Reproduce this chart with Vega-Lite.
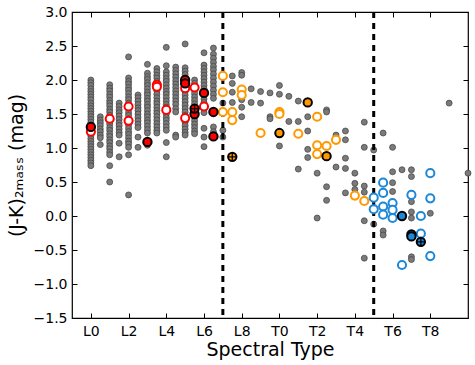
{
"$schema": "https://vega.github.io/schema/vega-lite/v6.json",
"width": 396, "height": 306,
"autosize": {"type": "none"},
"padding": {"left": 72, "top": 12, "right": 7, "bottom": 47},
"config": {"view": {"stroke": "black", "strokeWidth": 1.2}, "font": "DejaVu Sans",
 "axis": {"labelFont": "DejaVu Sans", "labelFontSize": 14, "labelColor": "black", "titleFont": "DejaVu Sans", "titleFontSize": 19, "titleFontWeight": "normal", "titleColor": "black", "domain": false, "grid": false, "tickColor": "black", "tickSize": -5, "tickWidth": 1}},
"datasets": {
"field": [
{"sp":0,"jk":2.00},{"sp":0,"jk":1.96},{"sp":0,"jk":1.92},{"sp":0,"jk":1.87},{"sp":0,"jk":1.83},{"sp":0,"jk":1.79},{"sp":0,"jk":1.75},{"sp":0,"jk":1.71},{"sp":0,"jk":1.66},{"sp":0,"jk":1.62},{"sp":0,"jk":1.58},{"sp":0,"jk":1.54},{"sp":0,"jk":1.50},{"sp":0,"jk":1.46},{"sp":0,"jk":1.42},{"sp":0,"jk":1.38},{"sp":0,"jk":1.34},{"sp":0,"jk":1.30},{"sp":0,"jk":1.26},{"sp":0,"jk":1.22},{"sp":0,"jk":1.18},{"sp":0,"jk":1.14},{"sp":0,"jk":1.10},{"sp":0,"jk":1.06},{"sp":0,"jk":1.02},{"sp":0,"jk":0.98},{"sp":0,"jk":0.94},{"sp":0,"jk":0.90},{"sp":0,"jk":0.86},{"sp":0,"jk":0.82},{"sp":0,"jk":0.78},{"sp":0,"jk":0.74},
{"sp":0.5,"jk":1.46},{"sp":0.5,"jk":1.41},{"sp":0.5,"jk":1.37},{"sp":0.5,"jk":1.33},{"sp":0.5,"jk":1.28},{"sp":0.5,"jk":1.24},{"sp":0.5,"jk":1.19},{"sp":0.5,"jk":1.15},{"sp":0.5,"jk":1.05},
{"sp":1,"jk":1.93},{"sp":1,"jk":1.88},{"sp":1,"jk":1.84},{"sp":1,"jk":1.79},{"sp":1,"jk":1.75},{"sp":1,"jk":1.70},{"sp":1,"jk":1.66},{"sp":1,"jk":1.62},{"sp":1,"jk":1.57},{"sp":1,"jk":1.53},{"sp":1,"jk":1.48},{"sp":1,"jk":1.44},{"sp":1,"jk":1.39},{"sp":1,"jk":1.35},{"sp":1,"jk":1.30},{"sp":1,"jk":1.26},{"sp":1,"jk":1.21},{"sp":1,"jk":1.17},{"sp":1,"jk":1.12},{"sp":1,"jk":1.08},{"sp":1,"jk":1.03},{"sp":1,"jk":0.99},{"sp":1,"jk":0.94},{"sp":1,"jk":0.90},{"sp":1,"jk":0.74},{"sp":1,"jk":0.50},
{"sp":1.5,"jk":1.66},{"sp":1.5,"jk":1.61},{"sp":1.5,"jk":1.56},{"sp":1.5,"jk":1.52},{"sp":1.5,"jk":1.47},{"sp":1.5,"jk":1.42},{"sp":1.5,"jk":1.37},{"sp":1.5,"jk":1.33},{"sp":1.5,"jk":1.28},{"sp":1.5,"jk":1.23},{"sp":1.5,"jk":1.19},{"sp":1.5,"jk":1.07},{"sp":1.5,"jk":0.87},
{"sp":2,"jk":2.34},{"sp":2,"jk":2.03},{"sp":2,"jk":1.98},{"sp":2,"jk":1.94},{"sp":2,"jk":1.89},{"sp":2,"jk":1.85},{"sp":2,"jk":1.80},{"sp":2,"jk":1.75},{"sp":2,"jk":1.71},{"sp":2,"jk":1.66},{"sp":2,"jk":1.62},{"sp":2,"jk":1.57},{"sp":2,"jk":1.52},{"sp":2,"jk":1.48},{"sp":2,"jk":1.43},{"sp":2,"jk":1.38},{"sp":2,"jk":1.34},{"sp":2,"jk":1.29},{"sp":2,"jk":1.24},{"sp":2,"jk":1.20},{"sp":2,"jk":1.15},{"sp":2,"jk":1.10},{"sp":2,"jk":1.06},{"sp":2,"jk":1.01},{"sp":2,"jk":0.90},{"sp":2,"jk":0.31},
{"sp":2.5,"jk":1.78},{"sp":2.5,"jk":1.74},{"sp":2.5,"jk":1.69},{"sp":2.5,"jk":1.64},{"sp":2.5,"jk":1.59},{"sp":2.5,"jk":1.55},{"sp":2.5,"jk":1.50},{"sp":2.5,"jk":1.45},{"sp":2.5,"jk":1.40},{"sp":2.5,"jk":1.35},{"sp":2.5,"jk":1.30},{"sp":2.5,"jk":1.16},{"sp":2.5,"jk":1.01},
{"sp":3,"jk":2.23},{"sp":3,"jk":2.10},{"sp":3,"jk":2.05},{"sp":3,"jk":2.01},{"sp":3,"jk":1.96},{"sp":3,"jk":1.92},{"sp":3,"jk":1.87},{"sp":3,"jk":1.82},{"sp":3,"jk":1.78},{"sp":3,"jk":1.73},{"sp":3,"jk":1.69},{"sp":3,"jk":1.64},{"sp":3,"jk":1.60},{"sp":3,"jk":1.55},{"sp":3,"jk":1.50},{"sp":3,"jk":1.46},{"sp":3,"jk":1.41},{"sp":3,"jk":1.37},{"sp":3,"jk":1.32},{"sp":3,"jk":1.27},{"sp":3,"jk":1.22},{"sp":3,"jk":1.04},
{"sp":3.5,"jk":2.17},{"sp":3.5,"jk":2.12},{"sp":3.5,"jk":2.07},{"sp":3.5,"jk":2.03},{"sp":3.5,"jk":1.98},{"sp":3.5,"jk":1.93},{"sp":3.5,"jk":1.88},{"sp":3.5,"jk":1.84},{"sp":3.5,"jk":1.79},{"sp":3.5,"jk":1.74},{"sp":3.5,"jk":1.69},{"sp":3.5,"jk":1.65},{"sp":3.5,"jk":1.60},{"sp":3.5,"jk":1.55},{"sp":3.5,"jk":1.51},{"sp":3.5,"jk":1.46},{"sp":3.5,"jk":1.41},{"sp":3.5,"jk":1.36},{"sp":3.5,"jk":1.31},{"sp":3.5,"jk":1.26},{"sp":3.5,"jk":1.22},
{"sp":4,"jk":2.48},{"sp":4,"jk":2.21},{"sp":4,"jk":2.12},{"sp":4,"jk":2.07},{"sp":4,"jk":2.02},{"sp":4,"jk":1.98},{"sp":4,"jk":1.93},{"sp":4,"jk":1.88},{"sp":4,"jk":1.83},{"sp":4,"jk":1.79},{"sp":4,"jk":1.74},{"sp":4,"jk":1.69},{"sp":4,"jk":1.64},{"sp":4,"jk":1.60},{"sp":4,"jk":1.55},{"sp":4,"jk":1.50},{"sp":4,"jk":1.45},{"sp":4,"jk":1.41},{"sp":4,"jk":1.36},{"sp":4,"jk":1.31},{"sp":4,"jk":1.26},{"sp":4,"jk":1.08},{"sp":4,"jk":0.87},
{"sp":4.5,"jk":2.19},{"sp":4.5,"jk":2.14},{"sp":4.5,"jk":2.09},{"sp":4.5,"jk":2.04},{"sp":4.5,"jk":1.99},{"sp":4.5,"jk":1.94},{"sp":4.5,"jk":1.89},{"sp":4.5,"jk":1.84},{"sp":4.5,"jk":1.79},{"sp":4.5,"jk":1.74},{"sp":4.5,"jk":1.69},{"sp":4.5,"jk":1.64},{"sp":4.5,"jk":1.58},{"sp":4.5,"jk":1.53},{"sp":4.5,"jk":1.19},{"sp":4.5,"jk":1.16},
{"sp":5,"jk":2.53},{"sp":5,"jk":2.18},{"sp":5,"jk":2.13},{"sp":5,"jk":2.08},{"sp":5,"jk":2.03},{"sp":5,"jk":1.98},{"sp":5,"jk":1.93},{"sp":5,"jk":1.88},{"sp":5,"jk":1.83},{"sp":5,"jk":1.78},{"sp":5,"jk":1.73},{"sp":5,"jk":1.68},{"sp":5,"jk":1.63},{"sp":5,"jk":1.58},{"sp":5,"jk":1.53},{"sp":5,"jk":1.48},{"sp":5,"jk":1.43},{"sp":5,"jk":1.38},{"sp":5,"jk":1.33},{"sp":5,"jk":1.28},{"sp":5,"jk":1.23},{"sp":5,"jk":1.19},
{"sp":5.5,"jk":2.00},{"sp":5.5,"jk":1.95},{"sp":5.5,"jk":1.90},{"sp":5.5,"jk":1.85},{"sp":5.5,"jk":1.80},{"sp":5.5,"jk":1.75},{"sp":5.5,"jk":1.70},{"sp":5.5,"jk":1.65},{"sp":5.5,"jk":1.60},{"sp":5.5,"jk":1.55},{"sp":5.5,"jk":1.50},{"sp":5.5,"jk":1.45},{"sp":5.5,"jk":1.40},{"sp":5.5,"jk":1.35},{"sp":5.5,"jk":1.30},{"sp":5.5,"jk":1.25},{"sp":5.5,"jk":1.21},
{"sp":6,"jk":2.40},{"sp":6,"jk":2.22},{"sp":6,"jk":2.17},{"sp":6,"jk":2.12},{"sp":6,"jk":2.07},{"sp":6,"jk":2.02},{"sp":6,"jk":1.97},{"sp":6,"jk":1.92},{"sp":6,"jk":1.87},{"sp":6,"jk":1.82},{"sp":6,"jk":1.77},{"sp":6,"jk":1.72},{"sp":6,"jk":1.67},{"sp":6,"jk":1.62},{"sp":6,"jk":1.57},{"sp":6,"jk":1.52},{"sp":6,"jk":1.29},{"sp":6,"jk":1.16},{"sp":6,"jk":1.02},
{"sp":6.5,"jk":2.47},{"sp":6.5,"jk":2.38},{"sp":6.5,"jk":2.32},{"sp":6.5,"jk":2.26},{"sp":6.5,"jk":2.20},{"sp":6.5,"jk":2.15},{"sp":6.5,"jk":2.09},{"sp":6.5,"jk":2.03},{"sp":6.5,"jk":1.97},{"sp":6.5,"jk":1.91},{"sp":6.5,"jk":1.85},{"sp":6.5,"jk":1.79},{"sp":6.5,"jk":1.73},{"sp":6.5,"jk":1.31},{"sp":6.5,"jk":1.24},
{"sp":7,"jk":1.66},{"sp":7,"jk":1.26},{"sp":7,"jk":1.16},
{"sp":7.5,"jk":2.06},{"sp":7.5,"jk":1.95},{"sp":7.5,"jk":1.82},{"sp":7.5,"jk":1.67},
{"sp":8,"jk":2.11},{"sp":8,"jk":2.07},{"sp":8,"jk":1.71},{"sp":8,"jk":1.60},{"sp":8,"jk":1.46},
{"sp":8.5,"jk":1.87},{"sp":8.5,"jk":1.67},
{"sp":9,"jk":1.83},{"sp":9,"jk":1.66},
{"sp":9.5,"jk":1.81},{"sp":9.5,"jk":1.46},{"sp":9.5,"jk":1.43},
{"sp":10,"jk":1.92},{"sp":10,"jk":1.79},{"sp":10,"jk":1.03},
{"sp":10.5,"jk":1.76},{"sp":10.5,"jk":1.39},
{"sp":11,"jk":1.69},{"sp":11,"jk":1.39},{"sp":11,"jk":0.69},
{"sp":11.5,"jk":1.46},{"sp":11.5,"jk":1.25},{"sp":11.5,"jk":0.98},{"sp":11.5,"jk":0.86},
{"sp":12,"jk":0.63},{"sp":12,"jk":-0.03},
{"sp":12.5,"jk":1.56},{"sp":12.5,"jk":1.53},{"sp":12.5,"jk":0.43},{"sp":12.5,"jk":0.23},
{"sp":13,"jk":1.19},{"sp":13,"jk":0.72},
{"sp":13.5,"jk":1.25},{"sp":13.5,"jk":1.12},{"sp":13.5,"jk":0.85},{"sp":13.5,"jk":0.70},{"sp":13.5,"jk":0.34},
{"sp":14,"jk":0.63},{"sp":14,"jk":0.48},{"sp":14,"jk":0.39},
{"sp":14.5,"jk":1.38},{"sp":14.5,"jk":1.01},{"sp":14.5,"jk":0.44},{"sp":14.5,"jk":0.35},{"sp":14.5,"jk":-0.07},{"sp":14.5,"jk":-0.62},
{"sp":15,"jk":0.97},{"sp":15,"jk":-0.12},
{"sp":15.5,"jk":1.22},{"sp":15.5,"jk":-0.22},{"sp":15.5,"jk":-0.28},
{"sp":16,"jk":1.01},{"sp":16,"jk":0.65},{"sp":16,"jk":0.49},{"sp":16,"jk":0.36},
{"sp":16.5,"jk":0.68},
{"sp":17,"jk":0.68},{"sp":17,"jk":0.58},{"sp":17,"jk":0.21},{"sp":17,"jk":0.06},{"sp":17,"jk":-0.03},{"sp":17,"jk":-0.60},{"sp":17,"jk":-0.64},
{"sp":18,"jk":0.04},
{"sp":19,"jk":1.66},
{"sp":20,"jk":0.63}
],
"targets": [
{"sp":0,"jk":1.24,"grp":"L","kind":"open"},{"sp":1,"jk":1.43,"grp":"L","kind":"open"},{"sp":2,"jk":1.61,"grp":"L","kind":"open"},{"sp":2,"jk":1.40,"grp":"L","kind":"open"},{"sp":3.5,"jk":1.93,"grp":"L","kind":"open"},{"sp":3.5,"jk":1.90,"grp":"L","kind":"open"},{"sp":4,"jk":1.56,"grp":"L","kind":"open"},{"sp":5,"jk":1.88,"grp":"L","kind":"open"},{"sp":5,"jk":1.44,"grp":"L","kind":"open"},{"sp":5.5,"jk":1.89,"grp":"L","kind":"open"},{"sp":6,"jk":1.61,"grp":"L","kind":"open"},
{"sp":0,"jk":1.31,"grp":"L","kind":"filled"},{"sp":3,"jk":1.09,"grp":"L","kind":"filled"},{"sp":5,"jk":2.00,"grp":"L","kind":"filled"},{"sp":5,"jk":1.95,"grp":"L","kind":"filled"},{"sp":5.5,"jk":1.50,"grp":"L","kind":"filled"},{"sp":6,"jk":1.81,"grp":"L","kind":"filled"},{"sp":6.5,"jk":1.53,"grp":"L","kind":"filled"},{"sp":6.5,"jk":1.17,"grp":"L","kind":"filled"},
{"sp":5.5,"jk":1.58,"grp":"L","kind":"cross"},
{"sp":7,"jk":2.06,"grp":"LT","kind":"open"},{"sp":7,"jk":1.82,"grp":"LT","kind":"open"},{"sp":7,"jk":1.53,"grp":"LT","kind":"open"},{"sp":7.5,"jk":1.53,"grp":"LT","kind":"open"},{"sp":7.5,"jk":1.41,"grp":"LT","kind":"open"},{"sp":8,"jk":1.86,"grp":"LT","kind":"open"},{"sp":8,"jk":1.78,"grp":"LT","kind":"open"},{"sp":9,"jk":1.22,"grp":"LT","kind":"open"},{"sp":10,"jk":1.53,"grp":"LT","kind":"open"},{"sp":10,"jk":1.50,"grp":"LT","kind":"open"},{"sp":11,"jk":1.21,"grp":"LT","kind":"open"},{"sp":12,"jk":1.46,"grp":"LT","kind":"open"},{"sp":12,"jk":1.04,"grp":"LT","kind":"open"},{"sp":12,"jk":0.91,"grp":"LT","kind":"open"},{"sp":12.5,"jk":1.03,"grp":"LT","kind":"open"},{"sp":13,"jk":1.12,"grp":"LT","kind":"open"},{"sp":14,"jk":0.30,"grp":"LT","kind":"open"},{"sp":14.5,"jk":0.22,"grp":"LT","kind":"open"},
{"sp":10,"jk":1.22,"grp":"LT","kind":"filled"},{"sp":11.5,"jk":1.67,"grp":"LT","kind":"filled"},{"sp":12.5,"jk":0.88,"grp":"LT","kind":"filled"},
{"sp":7.5,"jk":0.87,"grp":"LT","kind":"cross"},
{"sp":15,"jk":0.27,"grp":"T","kind":"open"},{"sp":15,"jk":0.10,"grp":"T","kind":"open"},{"sp":15.5,"jk":0.49,"grp":"T","kind":"open"},{"sp":15.5,"jk":0.34,"grp":"T","kind":"open"},{"sp":15.5,"jk":0.14,"grp":"T","kind":"open"},{"sp":15.5,"jk":0.02,"grp":"T","kind":"open"},{"sp":16,"jk":0.19,"grp":"T","kind":"open"},{"sp":16,"jk":0.09,"grp":"T","kind":"open"},{"sp":16,"jk":-0.03,"grp":"T","kind":"open"},{"sp":16.5,"jk":-0.72,"grp":"T","kind":"open"},{"sp":17,"jk":0.31,"grp":"T","kind":"open"},{"sp":17.5,"jk":0.00,"grp":"T","kind":"open"},{"sp":17.5,"jk":-0.26,"grp":"T","kind":"open"},{"sp":18,"jk":0.63,"grp":"T","kind":"open"},{"sp":18,"jk":0.26,"grp":"T","kind":"open"},{"sp":18,"jk":-0.59,"grp":"T","kind":"open"},
{"sp":16.5,"jk":0.00,"grp":"T","kind":"filled"},{"sp":17,"jk":-0.27,"grp":"T","kind":"filled"},{"sp":17,"jk":-0.30,"grp":"T","kind":"filled"},
{"sp":17.5,"jk":-0.38,"grp":"T","kind":"cross"}
],
"bounds": [{"sp":7},{"sp":15}]
},
"resolve": {"axis": {"x": "independent", "y": "independent"}},
"layer": [
{"data": {"name": "field"},
 "mark": {"type": "circle", "size": 36, "fill": "#7a7a7a", "stroke": "#404040", "strokeWidth": 0.7, "opacity": 1},
 "encoding": {
  "x": {"field": "sp", "type": "quantitative", "scale": {"domain": [-1, 20], "nice": false, "zero": false},
   "axis": {"orient": "bottom", "title": "Spectral Type", "values": [0,2,4,6,8,10,12,14,16,18], "labelExpr": "datum.value < 10 ? 'L' + datum.value : 'T' + (datum.value - 10)", "labelPadding": 11, "titlePadding": 2}},
  "y": {"field": "jk", "type": "quantitative", "scale": {"domain": [-1.5, 3.0], "nice": false, "zero": false},
   "axis": {"orient": "left", "title": "(J-K)₂ₘₐₛₛ (mag)", "values": [-1.5,-1,-0.5,0,0.5,1,1.5,2,2.5,3], "format": ".1f", "labelPadding": 10, "titlePadding": 7}}
 }},
{"data": {"name": "bounds"},
 "mark": {"type": "rule", "color": "black", "strokeWidth": 3, "strokeDash": [6, 5]},
 "encoding": {"x": {"field": "sp", "type": "quantitative",
   "axis": {"orient": "top", "title": null, "labels": false, "values": [0,2,4,6,8,10,12,14,16,18]}}}},
{"data": {"name": "targets"},
 "transform": [{"filter": "datum.kind == 'open'"}],
 "mark": {"type": "circle", "size": 66, "fill": "white", "strokeWidth": 2, "opacity": 1},
 "encoding": {
  "x": {"field": "sp", "type": "quantitative", "axis": null},
  "y": {"field": "jk", "type": "quantitative",
   "axis": {"orient": "right", "title": null, "labels": false, "values": [-1.5,-1,-0.5,0,0.5,1,1.5,2,2.5,3]}},
  "stroke": {"field": "grp", "type": "nominal", "scale": {"domain": ["L","LT","T"], "range": ["#ff0000","#ff9900","#1e88d8"]}, "legend": null}
 }},
{"data": {"name": "targets"},
 "transform": [{"filter": "datum.kind != 'open'"}],
 "mark": {"type": "circle", "size": 70, "stroke": "black", "strokeWidth": 2, "opacity": 1},
 "encoding": {
  "x": {"field": "sp", "type": "quantitative", "axis": null},
  "y": {"field": "jk", "type": "quantitative", "axis": null},
  "fill": {"field": "grp", "type": "nominal", "scale": {"domain": ["L","LT","T"], "range": ["#ff0000","#ff9900","#1e88d8"]}, "legend": null}
 }},
{"data": {"name": "targets"},
 "transform": [{"filter": "datum.kind == 'cross'"}],
 "mark": {"type": "point", "shape": "M-1,0H1M0,-1V1", "size": 70, "filled": false, "stroke": "black", "strokeWidth": 1.3, "opacity": 1},
 "encoding": {
  "x": {"field": "sp", "type": "quantitative", "axis": null},
  "y": {"field": "jk", "type": "quantitative", "axis": null}
 }}
]
}
